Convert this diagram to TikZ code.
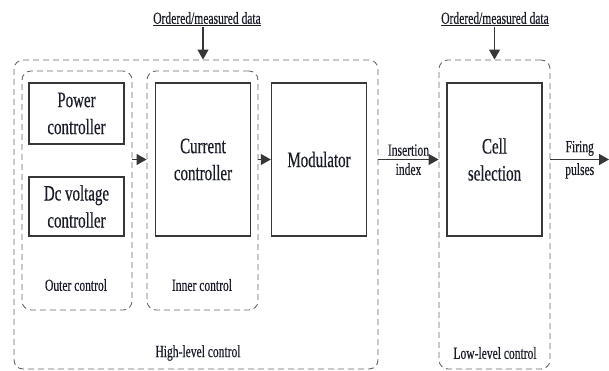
\documentclass[tikz,border=0pt]{standalone}
\usepackage{fontspec}
\setmainfont{Liberation Serif}[FakeStretch=0.68,FakeBold=0.4]
\usetikzlibrary{arrows.meta,positioning,calc}
\definecolor{boxline}{RGB}{55,55,55}
\definecolor{groupline}{RGB}{105,105,105}
\definecolor{labtext}{RGB}{25,28,40}
\newcommand{\bigtxt}{\fontsize{22}{27}\selectfont}
\newcommand{\smalltxt}{\fontsize{17}{20}\selectfont}

\begin{document}
\begin{tikzpicture}[
    x=1pt, y=1pt,
    block/.style={draw=boxline, line width=1.4pt, inner sep=0pt, align=center,
        minimum width=95pt, font=\bigtxt, text=labtext},
    group/.style={draw=groupline, line width=0.9pt, dash pattern=on 6pt off 4pt,
        rounded corners=9pt, inner sep=0pt},
    lab/.style={font=\smalltxt, text=labtext, inner sep=3pt},
    flow/.style={-{Triangle[length=10pt,width=11pt]}, line width=1.3pt, draw=boxline}
]
\useasboundingbox (0,0) rectangle (609,-371);

% dashed groups
\node[group, minimum width=364pt, minimum height=309pt] (high) at (196,-214.5) {};
\node[group, minimum width=111pt, minimum height=309pt] (low) at (494.5,-214.5) {};
\node[group, minimum width=110pt, minimum height=239pt] (outer) at (77,-190.5) {};
\node[group, minimum width=111pt, minimum height=239pt] (inner) at (202.5,-190.5) {};

% controller blocks
\node[block, minimum height=61pt] (pc) at (76.5,-113.5) {Power\\controller};
\node[block, minimum height=59pt] (dc) at (76.5,-206.5) {Dc voltage\\controller};
\node[block, minimum height=153pt] (cur) at (203,-159.5) {Current\\controller};
\node[block, minimum height=153pt] (mod) at (319,-159.5) {Modulator};
\node[block, minimum height=153pt] (cell) at (494.5,-159.5) {Cell\\selection};

% group labels
\node[lab] (outerlab) at (76,-285) {Outer control};
\node[lab] (innerlab) at (202,-285) {Inner control};
\node[lab] (highlab) at (198,-353) {High-level control};
\node[lab] (lowlab) at (495,-353) {Low-level control};

% measured data inputs
\node[lab, inner sep=1pt] (data1) at (207,-19) {\underline{Ordered/measured data}};
\node[lab, inner sep=1pt] (data2) at (495,-19) {\underline{Ordered/measured data}};
\draw[flow] (data1.south -| cur.north) -- (cur.north |- high.north);
\draw[flow] (data2.south -| cell.north) -- (cell.north |- low.north);

% signal flow
\draw[flow] (outer.east |- cur.center) -- (inner.west |- cur.center);
\draw[flow] (inner.east |- mod.center) -- (mod.west);
\draw[flow] (high.east |- mod.center) -- (low.west |- mod.center)
    node[lab, midway, above] (inslab) {Insertion}
    node[lab, midway, below] (idxlab) {index};
\coordinate (out) at (609,-159.5);
\draw[flow] (low.east |- cell.center) -- (out)
    node[lab, midway, above] (firlab) {Firing}
    node[lab, midway, below] (pullab) {pulses};
\end{tikzpicture}
\end{document}
